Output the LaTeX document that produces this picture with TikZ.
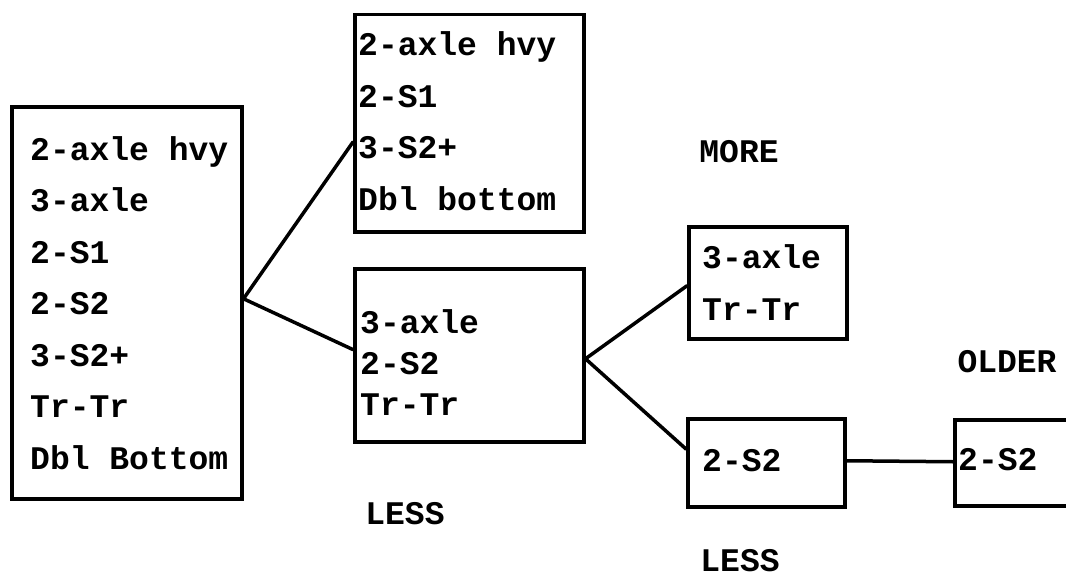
\documentclass[tikz,border=0pt]{standalone}
\usepackage{fontspec}
\setmonofont{Liberation Mono}
\usetikzlibrary{calc}
\begin{document}
\begin{tikzpicture}[x=1pt,y=-1pt,
  box/.style={draw=black, line width=3.5pt, rectangle, inner sep=0pt, anchor=north west},
  txt/.style={anchor=west, align=left, inner sep=0pt,
    font=\ttfamily\bfseries\fontsize{33}{51.5}\selectfont},
  txtc/.style={txt, font=\ttfamily\bfseries\fontsize{33}{41}\selectfont},
  lbl/.style={inner sep=0pt, font=\ttfamily\bfseries\fontsize{33}{40}\selectfont},
  link/.style={draw=black, line width=3.5pt, line cap=round}]
\useasboundingbox (0,0) rectangle (1066,578);
\clip (0,0) rectangle (1066,578);

% boxes
\node[box, minimum width=230, minimum height=392] (A) at (10,105) {};
\node[box, minimum width=229, minimum height=217] (B) at (353,13) {};
\node[box, minimum width=229, minimum height=173] (C) at (353,267) {};
\node[box, minimum width=158, minimum height=112] (D) at (687,225) {};
\node[box, minimum width=157, minimum height=88]  (E) at (686,417) {};
\node[box, minimum width=160, minimum height=86]  (F) at (953,418) {};

% box contents
\node[txt] (At) at ([xshift=20pt]A.west) {2-axle hvy\\3-axle\\2-S1\\2-S2\\3-S2+\\Tr-Tr\\Dbl Bottom};
\node[txt] (Bt) at ([xshift=5pt,yshift=2pt]B.west) {2-axle hvy\\2-S1\\3-S2+\\Dbl bottom};
\node[txtc] (Ct) at ([xshift=7pt,yshift=-7pt]C.west) {3-axle\\2-S2\\Tr-Tr};
\node[txt] (Dt) at ([xshift=15pt]D.west) {3-axle\\Tr-Tr};
\node[txt] (Et) at ([xshift=16pt,yshift=2pt]E.west) {2-S2};
\node[txt] (Ft) at ([xshift=5pt,yshift=3pt]F.west) {2-S2};

% labels
\node[lbl] (more) at (739,152) {MORE};
\node[lbl] (older) at (1007,362) {OLDER};
\node[lbl] (less1) at (405,514) {LESS};
\node[lbl] (less2) at (740,561) {LESS};

% connectors
\draw[link] ([yshift=4pt]A.east) -- ($(B.north west)!0.585!(B.south west)$);
\draw[link] ([yshift=4pt]A.east) -- ($(C.north west)!0.468!(C.south west)$);
\draw[link] ($(C.north east)!0.52!(C.south east)$) -- ([yshift=-3pt]D.west);
\draw[link] ($(C.north east)!0.52!(C.south east)$) -- ($(E.north west)!0.35!(E.south west)$);
\draw[link] ([yshift=2pt]E.east) -- ([yshift=1pt]F.west);
\end{tikzpicture}
\end{document}
